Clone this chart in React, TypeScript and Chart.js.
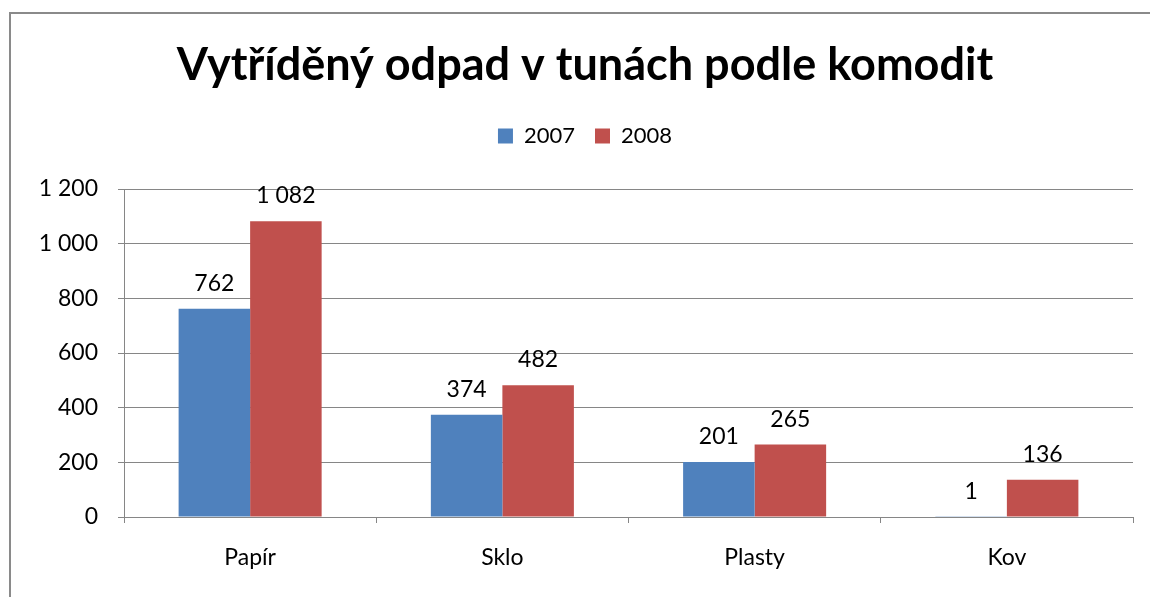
import React, { useEffect, useRef } from "react";
import { Chart, registerables } from "chart.js";

Chart.register(...registerables);

const categories = ["Papír", "Sklo", "Plasty", "Kov"];
const series2007 = [762, 374, 201, 1];
const series2008 = [1082, 482, 265, 136];
const seriesLabels = ["2007", "2008"];
const titleText = "Vytříděný odpad v tunách podle komodit";

const fmt = (v: number) => String(Math.round(v)).replace(/\B(?=(\d{3})+(?!\d))/g, " ");

const FONT = "Lato";

const dataLabels = {
  id: "dataLabels",
  afterDatasetsDraw(chart: any) {
    const ctx = chart.ctx;
    ctx.save();
    ctx.font = `23px ${FONT}`;
    ctx.fillStyle = "#000";
    ctx.textAlign = "center";
    ctx.textBaseline = "alphabetic";
    chart.data.datasets.forEach((ds: any, i: number) => {
      const meta = chart.getDatasetMeta(i);
      meta.data.forEach((el: any, j: number) => {
        ctx.fillText(fmt(ds.data[j]), el.x, el.y - 18);
      });
    });
    ctx.restore();
  },
};

const frame = {
  id: "frame",
  beforeDraw(chart: any) {
    const ctx = chart.ctx;
    ctx.save();
    ctx.fillStyle = "#fff";
    ctx.fillRect(0, 0, chart.width, chart.height);
    ctx.strokeStyle = "#8a8a8a";
    ctx.lineWidth = 2;
    ctx.beginPath();
    ctx.moveTo(10, chart.height);
    ctx.lineTo(10, 13);
    ctx.lineTo(chart.width, 13);
    ctx.stroke();
    ctx.restore();
  },
};

export default function App() {
  const ref = useRef<HTMLCanvasElement>(null);
  useEffect(() => {
    if (!ref.current) return;
    const chart = new Chart(ref.current, {
      type: "bar",
      data: {
        labels: categories,
        datasets: [
          { label: seriesLabels[0], data: series2007, backgroundColor: "#4F81BD", borderWidth: 0 },
          { label: seriesLabels[1], data: series2008, backgroundColor: "#C0504D", borderWidth: 0 },
        ],
      },
      options: {
        responsive: false,
        animation: false,
        layout: { padding: { left: 37, right: 17, top: 0, bottom: 0 } },
        datasets: { bar: { categoryPercentage: 0.567, barPercentage: 1 } },
        plugins: {
          title: {
            display: true,
            text: titleText,
            color: "#000",
            font: { family: FONT, size: 45, weight: "bold", lineHeight: 1.2 },
            padding: { top: 38, bottom: 13 },
          },
          subtitle: {
            display: true,
            text: " ",
            weight: 500,
            font: { family: FONT, size: 10, lineHeight: 1.2 },
            padding: { top: 0, bottom: 20 },
          } as any,
          legend: {
            display: true,
            position: "top",
            labels: {
              color: "#000",
              font: { family: FONT, size: 22 },
              boxWidth: 15,
              boxHeight: 15,
              padding: 20,
            },
          },
          tooltip: { enabled: false },
        },
        scales: {
          x: {
            grid: { display: true, drawOnChartArea: false, drawTicks: true, tickLength: 6, color: "#868686", offset: true },
            border: { color: "#868686", width: 1 },
            ticks: { color: "#000", font: { family: FONT, size: 23 }, padding: 21 },
            afterFit: (s: any) => { s.height = 80; },
          },
          y: {
            min: 0,
            max: 1200,
            grid: { color: "#868686", tickLength: 6 },
            border: { color: "#868686", width: 1 },
            ticks: {
              stepSize: 200,
              color: "#000",
              font: { family: FONT, size: 23 },
              padding: 20,
              callback: (v: any) => fmt(Number(v)),
            },
            afterFit: (s: any) => { s.width = 87; },
          },
        },
      },
      plugins: [frame, dataLabels],
    });
    return () => chart.destroy();
  }, []);
  return (
    <div style={{ position: "absolute", left: 0, top: 0, width: 1150, height: 597 }}>
      <canvas ref={ref} width={1150} height={597} style={{ display: "block" }} />
    </div>
  );
}
